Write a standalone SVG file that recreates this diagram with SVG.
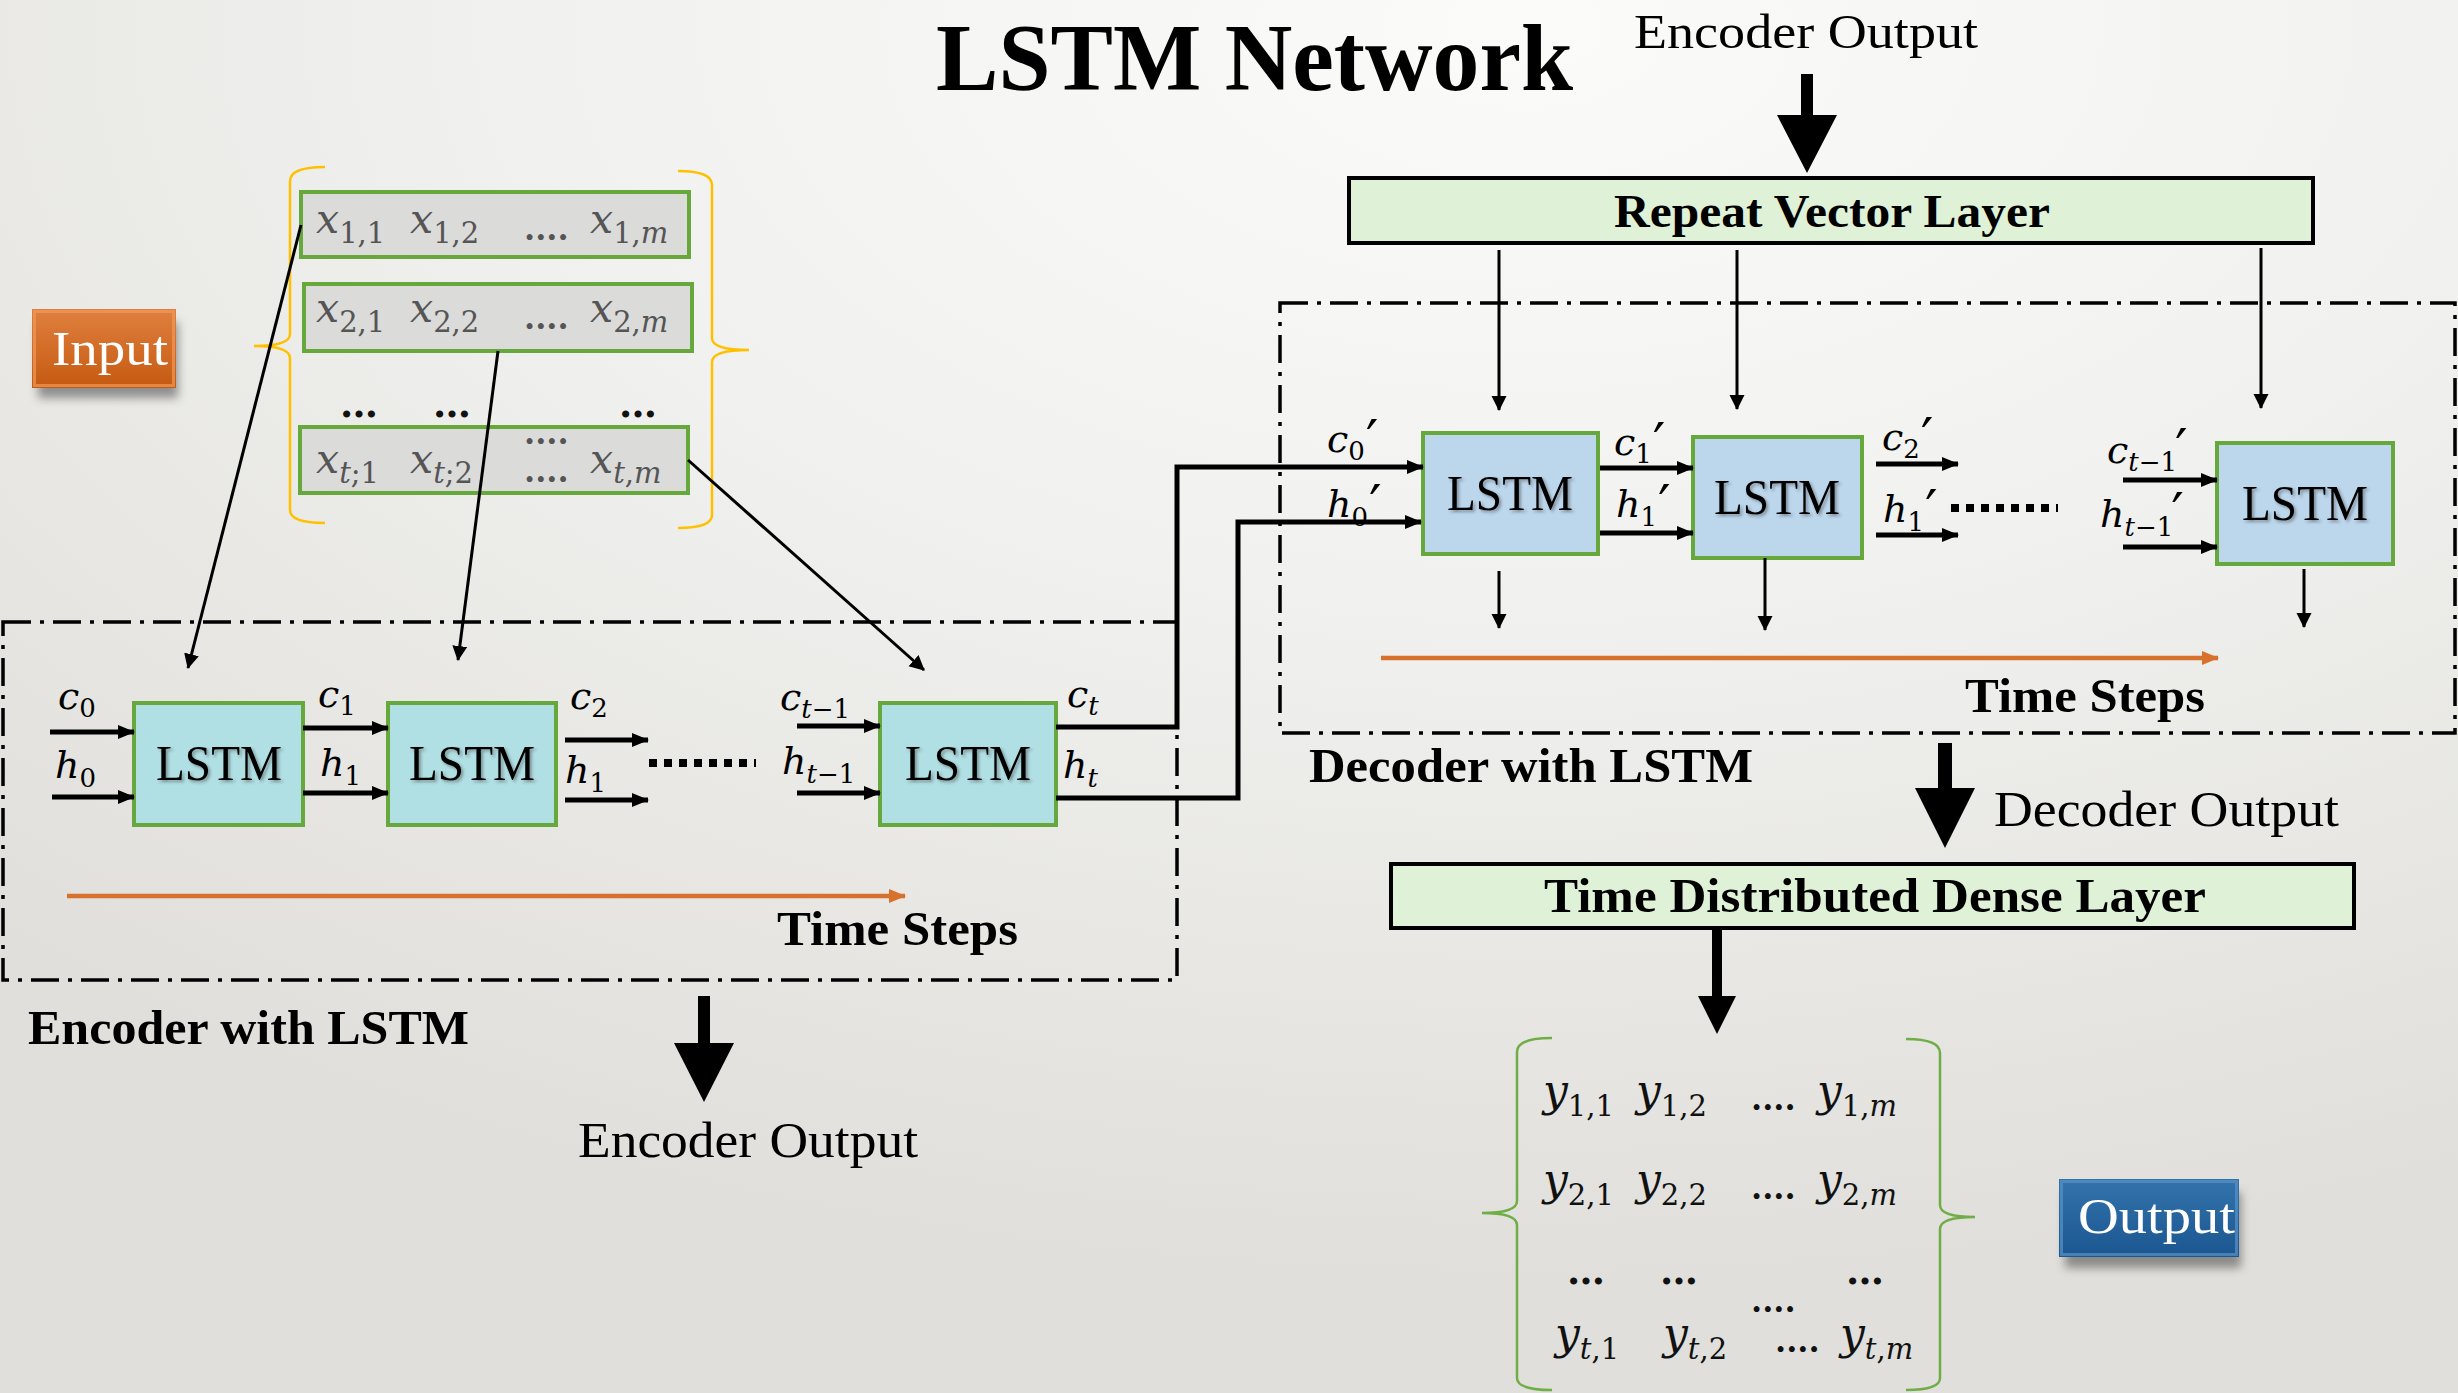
<svg xmlns="http://www.w3.org/2000/svg" width="2458" height="1393" viewBox="0 0 2458 1393">
  <defs>
    <radialGradient id="bg" cx="0.62" cy="0.02" r="0.9">
      <stop offset="0" stop-color="#fbfbfa"/>
      <stop offset="0.45" stop-color="#f1f1ef"/>
      <stop offset="1" stop-color="#e0dfdb"/>
    </radialGradient>
    <linearGradient id="orangeBtn" x1="0" y1="0" x2="0" y2="1">
      <stop offset="0" stop-color="#e0803f"/>
      <stop offset="1" stop-color="#c55a11"/>
    </linearGradient>
    <linearGradient id="blueBtn" x1="0" y1="0" x2="0" y2="1">
      <stop offset="0" stop-color="#3373ac"/>
      <stop offset="1" stop-color="#1b5690"/>
    </linearGradient>
    <filter id="btnShadow" x="-20%" y="-20%" width="140%" height="160%">
      <feGaussianBlur stdDeviation="5"/>
    </filter>
    <filter id="txtShadow" x="-10%" y="-10%" width="130%" height="130%">
      <feDropShadow dx="2" dy="2" stdDeviation="1.5" flood-color="#333" flood-opacity="0.45"/>
    </filter>
    <marker id="ah" markerUnits="userSpaceOnUse" markerWidth="18" markerHeight="16" refX="16" refY="8" orient="auto">
      <path d="M0,1 L17,8 L0,15 z" fill="#000"/>
    </marker>
    <marker id="ahs" markerUnits="userSpaceOnUse" markerWidth="16" markerHeight="16" refX="14" refY="8" orient="auto">
      <path d="M0,0.5 L15,8 L0,15.5 z" fill="#000"/>
    </marker>
    <marker id="aho" markerUnits="userSpaceOnUse" markerWidth="18" markerHeight="16" refX="16" refY="8" orient="auto">
      <path d="M0,1 L17,8 L0,15 z" fill="#d8712b"/>
    </marker>
    <style>
      .serif { font-family: "Liberation Serif", "DejaVu Serif", serif; fill: #000; }
      .bold { font-weight: bold; }
      .lbl { font-size: 48px; }
      .lstm { font-family: "Liberation Serif", serif; font-size: 50px; text-anchor: middle; fill: #000; filter: url(#txtShadow); }
      .m { font-family: "DejaVu Serif", serif; font-style: italic; font-size: 38px; fill: #000; }
      .mx { font-family: "DejaVu Serif", serif; font-style: italic; font-size: 41px; fill: #555; }
      .my { font-family: "DejaVu Serif", serif; font-style: italic; font-size: 44px; fill: #111; }
      .s { font-size: 26px; font-style: normal; }
      .s2 { font-size: 29px; font-style: normal; }
      .i { font-style: italic; }
      .pr { font-size: 56px; font-style: normal; }
      .dots { font-family: "DejaVu Serif", serif; font-size: 38px; font-weight: bold; fill: #111; }
      .pd { font-family: "DejaVu Serif", serif; font-size: 32px; font-weight: bold; }
      .encBox { fill: #b0dfe4; stroke: #67a83c; stroke-width: 4; }
      .decBox { fill: #bcd6ec; stroke: #67a83c; stroke-width: 4; }
      .layer { fill: #dff1d6; stroke: #000; stroke-width: 4; }
      .row { fill: #dbdbda; stroke: #67a83c; stroke-width: 4; }
      .frame { fill: none; stroke: #000; stroke-width: 3.5; stroke-dasharray: 28 9 4 9; }
      .thick { fill: none; stroke: #000; stroke-width: 5; }
      .thin { fill: none; stroke: #000; stroke-width: 3; }
      .orange { fill: none; stroke: #d8712b; stroke-width: 4.5; }
      .dotline { fill: none; stroke: #000; stroke-width: 8; stroke-dasharray: 8 7; }
      .brY { fill: none; stroke: #ffc000; stroke-width: 2.5; }
      .brG { fill: none; stroke: #70ad47; stroke-width: 2.5; }
    </style>
  </defs>

  <!-- backdrop -->
  <rect width="2458" height="1393" fill="url(#bg)"/>

  <!-- title -->
  <text class="serif bold" x="936" y="90" font-size="95" textLength="637" lengthAdjust="spacingAndGlyphs">LSTM Network</text>

  <!-- encoder frame -->
  <g id="encoder-frame">
    <rect class="frame" x="3" y="622" width="1174" height="358"/>
    <text class="serif bold lbl" x="28" y="1044" textLength="441" lengthAdjust="spacingAndGlyphs">Encoder with LSTM</text>
    <text class="serif bold lbl" x="777" y="945" textLength="241" lengthAdjust="spacingAndGlyphs">Time Steps</text>
  </g>

  <!-- decoder frame -->
  <g id="decoder-frame">
    <rect class="frame" x="1280" y="303" width="1175" height="430"/>
    <text class="serif bold lbl" x="1309" y="782" textLength="444" lengthAdjust="spacingAndGlyphs">Decoder with LSTM</text>
    <text class="serif bold lbl" x="1965" y="712" textLength="240" lengthAdjust="spacingAndGlyphs">Time Steps</text>
  </g>

  <!-- input button -->
  <g id="input-button">
    <rect x="38" y="322" width="140" height="76" fill="#444" opacity="0.55" filter="url(#btnShadow)"/>
    <rect x="32" y="309" width="144" height="79" fill="url(#orangeBtn)"/>
    <rect x="34.5" y="311.5" width="139" height="74" fill="none" stroke="#f09a5c" stroke-width="3" opacity="0.7"/>
    <text x="52" y="365" font-family="Liberation Serif, serif" font-size="48" fill="#fff" textLength="116" lengthAdjust="spacingAndGlyphs">Input</text>
  </g>

  <!-- input sequence matrix -->
  <g id="input-matrix">
    <path class="brY" d="M325,167 Q290,167 290,181 L290,334 Q290,346 254,346 Q290,346 290,358 L290,510 Q290,523 325,523"/>
    <path class="brY" d="M678,171 Q712,171 712,185 L712,338 Q712,350 749,350 Q712,350 712,362 L712,515 Q712,528 678,528"/>
    <rect class="row" x="301" y="192" width="388" height="65"/>
    <rect class="row" x="304" y="284" width="388" height="67"/>
    <rect class="row" x="300" y="427" width="388" height="66"/>

    <text class="mx" x="316" y="233">x<tspan class="s2" dy="10">1,1</tspan></text>
    <text class="mx" x="410" y="233">x<tspan class="s2" dy="10">1,2</tspan></text>
    <text class="pd" x="524" y="240" fill="#555">....</text>
    <text class="mx" x="590" y="233">x<tspan class="s2" dy="10">1,<tspan class="i">m</tspan></tspan></text>

    <text class="mx" x="316" y="322">x<tspan class="s2" dy="10">2,1</tspan></text>
    <text class="mx" x="410" y="322">x<tspan class="s2" dy="10">2,2</tspan></text>
    <text class="pd" x="524" y="329" fill="#555">....</text>
    <text class="mx" x="590" y="322">x<tspan class="s2" dy="10">2,<tspan class="i">m</tspan></tspan></text>

    <text class="dots" x="340" y="417">…</text>
    <text class="dots" x="433" y="417">…</text>
    <text class="dots" x="619" y="417">…</text>

    <text class="pd" x="524" y="444" fill="#555">....</text>
    <text class="mx" x="316" y="473">x<tspan class="s2" dy="10"><tspan class="i">t</tspan>;1</tspan></text>
    <text class="mx" x="410" y="473">x<tspan class="s2" dy="10"><tspan class="i">t</tspan>;2</tspan></text>
    <text class="pd" x="524" y="482" fill="#555">....</text>
    <text class="mx" x="590" y="473">x<tspan class="s2" dy="10"><tspan class="i">t</tspan>,<tspan class="i">m</tspan></tspan></text>
  </g>

  <!-- encoder cells -->
  <g id="enc-lstm-1">
    <rect class="encBox" x="134" y="703" width="169" height="122"/>
    <text class="lstm" x="219" y="780" textLength="126" lengthAdjust="spacingAndGlyphs">LSTM</text>
  </g>
  <g id="enc-lstm-2">
    <rect class="encBox" x="388" y="703" width="168" height="122"/>
    <text class="lstm" x="472" y="780" textLength="126" lengthAdjust="spacingAndGlyphs">LSTM</text>
  </g>
  <g id="enc-lstm-t">
    <rect class="encBox" x="880" y="703" width="176" height="122"/>
    <text class="lstm" x="968" y="780" textLength="126" lengthAdjust="spacingAndGlyphs">LSTM</text>
  </g>

  <!-- encoder state labels -->
  <g id="enc-labels">
    <text class="m" x="58" y="709">c<tspan class="s" dy="8">0</tspan></text>
    <text class="m" x="55" y="778">h<tspan class="s" dy="9">0</tspan></text>
    <text class="m" x="318" y="707">c<tspan class="s" dy="8">1</tspan></text>
    <text class="m" x="320" y="776">h<tspan class="s" dy="9">1</tspan></text>
    <text class="m" x="570" y="709">c<tspan class="s" dy="8">2</tspan></text>
    <text class="m" x="565" y="783">h<tspan class="s" dy="9">1</tspan></text>
    <text class="m" x="780" y="710">c<tspan class="s" dy="8"><tspan class="i">t</tspan>−1</tspan></text>
    <text class="m" x="782" y="774">h<tspan class="s" dy="9"><tspan class="i">t</tspan>−1</tspan></text>
    <text class="m" x="1067" y="707">c<tspan class="s i" dy="8">t</tspan></text>
    <text class="m" x="1063" y="778">h<tspan class="s i" dy="9">t</tspan></text>
  </g>

  <!-- repeat vector layer -->
  <g id="encoder-output-top">
    <text class="serif" x="1634" y="48" font-size="48" textLength="344" lengthAdjust="spacingAndGlyphs">Encoder Output</text>
  </g>
  <g id="repeat-vector">
    <rect class="layer" x="1349" y="178" width="964" height="65"/>
    <text class="serif bold" x="1614" y="227" font-size="46" textLength="436" lengthAdjust="spacingAndGlyphs">Repeat Vector Layer</text>
  </g>

  <!-- decoder cells -->
  <g id="dec-lstm-1">
    <rect class="decBox" x="1423" y="433" width="175" height="121"/>
    <text class="lstm" x="1510" y="510" textLength="126" lengthAdjust="spacingAndGlyphs">LSTM</text>
  </g>
  <g id="dec-lstm-2">
    <rect class="decBox" x="1693" y="437" width="169" height="121"/>
    <text class="lstm" x="1777" y="514" textLength="126" lengthAdjust="spacingAndGlyphs">LSTM</text>
  </g>
  <g id="dec-lstm-t">
    <rect class="decBox" x="2217" y="443" width="176" height="121"/>
    <text class="lstm" x="2305" y="520" textLength="126" lengthAdjust="spacingAndGlyphs">LSTM</text>
  </g>

  <!-- decoder state labels -->
  <g id="dec-labels">
    <text class="m" x="1327" y="452">c<tspan class="s" dy="8">0</tspan><tspan class="pr" dx="1" dy="0">′</tspan></text>
    <text class="m" x="1327" y="517">h<tspan class="s" dy="9">0</tspan><tspan class="pr" dx="1" dy="-1">′</tspan></text>
    <text class="m" x="1614" y="455">c<tspan class="s" dy="8">1</tspan><tspan class="pr" dx="1" dy="0">′</tspan></text>
    <text class="m" x="1616" y="517">h<tspan class="s" dy="9">1</tspan><tspan class="pr" dx="1" dy="-1">′</tspan></text>
    <text class="m" x="1882" y="450">c<tspan class="s" dy="8">2</tspan><tspan class="pr" dx="1" dy="0">′</tspan></text>
    <text class="m" x="1883" y="522">h<tspan class="s" dy="9">1</tspan><tspan class="pr" dx="1" dy="-1">′</tspan></text>
    <text class="m" x="2107" y="463">c<tspan class="s" dy="8"><tspan class="i">t</tspan>−1</tspan><tspan class="pr" dx="-2" dy="-2">′</tspan></text>
    <text class="m" x="2100" y="527">h<tspan class="s" dy="9"><tspan class="i">t</tspan>−1</tspan><tspan class="pr" dx="-2" dy="-3">′</tspan></text>
  </g>

  <!-- outputs -->
  <g id="encoder-output-bottom">
    <text class="serif" x="578" y="1157" font-size="50" textLength="340" lengthAdjust="spacingAndGlyphs">Encoder Output</text>
  </g>
  <g id="decoder-output">
    <text class="serif" x="1994" y="826" font-size="50" textLength="345" lengthAdjust="spacingAndGlyphs">Decoder Output</text>
  </g>
  <g id="time-distributed">
    <rect class="layer" x="1391" y="864" width="963" height="64"/>
    <text class="serif bold" x="1544" y="912" font-size="48" textLength="662" lengthAdjust="spacingAndGlyphs">Time Distributed Dense Layer</text>
  </g>

  <!-- output sequence matrix -->
  <g id="output-matrix">
    <path class="brG" d="M1552,1038 Q1517,1038 1517,1052 L1517,1201 Q1517,1213 1482,1213 Q1517,1213 1517,1225 L1517,1378 Q1517,1390 1552,1390"/>
    <path class="brG" d="M1906,1039 Q1940,1039 1940,1053 L1940,1205 Q1940,1217 1975,1217 Q1940,1217 1940,1229 L1940,1378 Q1940,1390 1906,1390"/>

    <text class="my" x="1543" y="1106">y<tspan class="s2" dy="10">1,1</tspan></text>
    <text class="my" x="1636" y="1106">y<tspan class="s2" dy="10">1,2</tspan></text>
    <text class="pd" x="1751" y="1110" fill="#111">....</text>
    <text class="my" x="1817" y="1106">y<tspan class="s2" dy="10">1,<tspan class="i">m</tspan></tspan></text>

    <text class="my" x="1543" y="1195">y<tspan class="s2" dy="10">2,1</tspan></text>
    <text class="my" x="1636" y="1195">y<tspan class="s2" dy="10">2,2</tspan></text>
    <text class="pd" x="1751" y="1199" fill="#111">....</text>
    <text class="my" x="1817" y="1195">y<tspan class="s2" dy="10">2,<tspan class="i">m</tspan></tspan></text>

    <text class="dots" x="1567" y="1284">…</text>
    <text class="dots" x="1660" y="1284">…</text>
    <text class="dots" x="1846" y="1284">…</text>
    <text class="pd" x="1751" y="1312" fill="#111">....</text>

    <text class="my" x="1555" y="1349">y<tspan class="s2" dy="10"><tspan class="i">t</tspan>,1</tspan></text>
    <text class="my" x="1663" y="1349">y<tspan class="s2" dy="10"><tspan class="i">t</tspan>,2</tspan></text>
    <text class="pd" x="1775" y="1352" fill="#111">....</text>
    <text class="my" x="1840" y="1349">y<tspan class="s2" dy="10"><tspan class="i">t</tspan>,<tspan class="i">m</tspan></tspan></text>
  </g>

  <!-- output button -->
  <g id="output-button">
    <rect x="2065" y="1192" width="176" height="76" fill="#444" opacity="0.55" filter="url(#btnShadow)"/>
    <rect x="2059" y="1179" width="180" height="78" fill="url(#blueBtn)"/>
    <rect x="2061.5" y="1181.5" width="175" height="73" fill="none" stroke="#5a93c6" stroke-width="3" opacity="0.7"/>
    <text x="2078" y="1233" font-family="Liberation Serif, serif" font-size="50" fill="#fff" textLength="157" lengthAdjust="spacingAndGlyphs">Output</text>
  </g>

  <!-- connectors -->
  <g id="connectors">
    <!-- input rows to encoder cells -->
    <line class="thin" x1="301" y1="225" x2="188" y2="668" marker-end="url(#ahs)"/>
    <line class="thin" x1="498" y1="351" x2="458" y2="660" marker-end="url(#ahs)"/>
    <line class="thin" x1="688" y1="460" x2="924" y2="670" marker-end="url(#ahs)"/>

    <!-- encoder state flow -->
    <line class="thick" x1="50" y1="732" x2="134" y2="732" marker-end="url(#ah)"/>
    <line class="thick" x1="52" y1="797" x2="134" y2="797" marker-end="url(#ah)"/>
    <line class="thick" x1="303" y1="728" x2="388" y2="728" marker-end="url(#ah)"/>
    <line class="thick" x1="303" y1="793" x2="388" y2="793" marker-end="url(#ah)"/>
    <line class="thick" x1="565" y1="740" x2="648" y2="740" marker-end="url(#ah)"/>
    <line class="thick" x1="565" y1="800" x2="648" y2="800" marker-end="url(#ah)"/>
    <line class="dotline" x1="649" y1="763" x2="756" y2="763"/>
    <line class="thick" x1="797" y1="726" x2="880" y2="726" marker-end="url(#ah)"/>
    <line class="thick" x1="797" y1="793" x2="880" y2="793" marker-end="url(#ah)"/>

    <!-- final encoder states into first decoder cell -->
    <polyline class="thick" points="1056,727 1177,727 1177,467 1423,467" marker-end="url(#ah)"/>
    <polyline class="thick" points="1056,798 1238,798 1238,522 1421,522" marker-end="url(#ah)"/>

    <!-- decoder state flow -->
    <line class="thick" x1="1600" y1="468" x2="1693" y2="468" marker-end="url(#ah)"/>
    <line class="thick" x1="1600" y1="533" x2="1693" y2="533" marker-end="url(#ah)"/>
    <line class="thick" x1="1876" y1="464" x2="1958" y2="464" marker-end="url(#ah)"/>
    <line class="thick" x1="1876" y1="535" x2="1958" y2="535" marker-end="url(#ah)"/>
    <line class="dotline" x1="1951" y1="508" x2="2058" y2="508"/>
    <line class="thick" x1="2123" y1="480" x2="2217" y2="480" marker-end="url(#ah)"/>
    <line class="thick" x1="2123" y1="547" x2="2217" y2="547" marker-end="url(#ah)"/>

    <!-- repeated vector into decoder cells -->
    <line class="thin" x1="1499" y1="250" x2="1499" y2="410" marker-end="url(#ahs)"/>
    <line class="thin" x1="1737" y1="250" x2="1737" y2="409" marker-end="url(#ahs)"/>
    <line class="thin" x1="2261" y1="248" x2="2261" y2="408" marker-end="url(#ahs)"/>

    <!-- decoder cell outputs -->
    <line class="thin" x1="1499" y1="571" x2="1499" y2="628" marker-end="url(#ahs)"/>
    <line class="thin" x1="1765" y1="558" x2="1765" y2="630" marker-end="url(#ahs)"/>
    <line class="thin" x1="2304" y1="569" x2="2304" y2="627" marker-end="url(#ahs)"/>

    <!-- time axes -->
    <line class="orange" x1="67" y1="896" x2="905" y2="896" marker-end="url(#aho)"/>
    <line class="orange" x1="1381" y1="658" x2="2218" y2="658" marker-end="url(#aho)"/>

    <!-- block arrows -->
    <polygon points="1801,74 1813,74 1813,115 1837,115 1807,173 1777,115 1801,115" fill="#000"/>
    <polygon points="698,996 710,996 710,1043 734,1043 704,1102 674,1043 698,1043" fill="#000"/>
    <polygon points="1938,743 1952,743 1952,788 1975,788 1945,848 1915,788 1938,788" fill="#000"/>
    <polygon points="1712,928 1722,928 1722,996 1736,996 1717,1034 1698,996 1712,996" fill="#000"/>
  </g>
</svg>
